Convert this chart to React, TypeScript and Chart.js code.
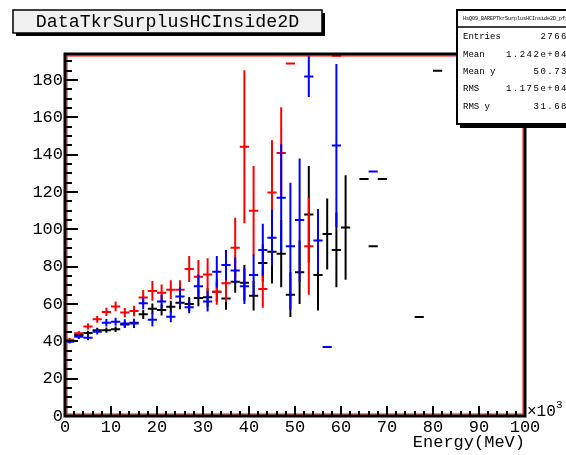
import React, { useEffect, useRef } from "react";
import { Chart, registerables } from "chart.js";

Chart.register(...registerables);

// ---- data (x in units of 10^3 MeV, bin width 2) ----
const blackX = [1, 3, 5, 7, 9, 11, 13, 15, 17, 19, 21, 23, 25, 27, 29, 31, 33, 35, 37, 39, 41, 43, 45, 47, 49, 51, 53, 55, 57, 59, 61, 65, 67, 69, 77, 81];
const blackY = [40.2, 43.4, 44.5, 46, 46, 46.5, 49, 50, 54.5, 57.5, 56.8, 58.5, 60.7, 60, 63.3, 63.6, 66.6, 63, 72, 71.4, 64.5, 82, 88, 87, 65, 77, 108, 75.5, 97.5, 89, 101, 127, 91, 127, 53, 185];
const blackErr = [1, 1.2, 1.2, 1.3, 1.4, 1.5, 1.7, 2, 2.5, 2.8, 3, 3.2, 3.5, 3.8, 4.5, 5, 5.5, 6, 6, 9.5, 8, 10, 17, 18, 12, 17, 26, 19, 19, 20, 28, 0, 0, 0, 0, 0];

const redX = [1, 3, 5, 7, 9, 11, 13, 15, 17, 19, 21, 23, 25, 27, 29, 31, 33, 35, 37, 39, 41, 43, 45, 47, 49, 53, 59];
const redY = [40.8, 44.3, 48, 51.8, 55.8, 58.7, 55.4, 56.3, 63.5, 67, 66, 67.7, 67.7, 78.8, 74.6, 75.8, 66.6, 71.1, 90.2, 144.3, 110, 68, 119.8, 141, 188.9, 91, 193];
const redErr = [1, 1.3, 1.6, 1.8, 2.2, 2.6, 2.5, 2.8, 4, 5.3, 4.5, 5, 5, 7, 9, 8.8, 7, 10, 16, 41, 24, 10, 28, 24.5, 0, 26, 0];

const blueX = [1, 3, 5, 7, 9, 11, 13, 15, 17, 19, 21, 23, 25, 27, 29, 31, 33, 35, 37, 39, 41, 43, 45, 47, 49, 51, 53, 55, 57, 59, 67];
const blueY = [39.8, 42.5, 42, 45.2, 50, 50.5, 49.6, 49.6, 60.4, 51.6, 61.4, 53.2, 64, 58.3, 69.6, 61.4, 77.3, 80.9, 78, 69.5, 75.5, 89, 95.5, 117, 91, 105, 182, 94, 37, 145, 131];
const blueErr = [1, 1.2, 1.4, 1.5, 2, 2.2, 2.3, 2.5, 3, 3.7, 3.6, 3, 5, 3.3, 6.2, 5.4, 8.5, 8, 7, 9.5, 11, 14, 15, 28.6, 34, 33, 11, 17, 0, 43.6, 0];

const binHalfWidth = 1;

const titleText = "DataTkrSurplusHCInside2D";
const xAxisTitle = "Energy(MeV)";
const statsHeader = "HsQ09_BAREPTkrSurplusHCInside2D_pfx";
const statsLabels = ["Entries", "Mean", "Mean y", "RMS", "RMS y"];
const statsValues = ["2766", "1.242e+04", "50.73", "1.175e+04", "31.68"];

const X_MIN = 0;
const X_MAX = 100;
const Y_MIN = 0;
const Y_MAX = 194;

const MONO = "'Liberation Mono', 'DejaVu Sans Mono', monospace";

const toPoints = (xs: number[], ys: number[], es: number[]) =>
  xs.map((x, i) => ({ x, y: ys[i], err: es[i] }));

const rootPlugin = {
  id: "rootStyle",
  beforeDraw(chart: any) {
    const ctx = chart.ctx;
    ctx.save();
    ctx.fillStyle = "#ffffff";
    ctx.fillRect(0, 0, chart.width, chart.height);
    ctx.restore();
  },
  afterDatasetsDraw(chart: any) {
    const { ctx, chartArea: ca } = chart;
    const xs = chart.scales.x;
    const ys = chart.scales.y;
    ctx.save();
    ctx.beginPath();
    ctx.rect(ca.left, ca.top - 2, ca.right - ca.left, ca.bottom - ca.top + 2);
    ctx.clip();
    ctx.lineWidth = 2;
    ctx.lineCap = "butt";
    chart.data.datasets.forEach((ds: any) => {
      ctx.strokeStyle = ds.borderColor;
      ds.data.forEach((p: any) => {
        const px = xs.getPixelForValue(p.x);
        const x0 = xs.getPixelForValue(p.x - binHalfWidth);
        const x1 = xs.getPixelForValue(p.x + binHalfWidth);
        const py = ys.getPixelForValue(p.y);
        ctx.beginPath();
        ctx.moveTo(x0, py);
        ctx.lineTo(x1, py);
        if (p.err > 0) {
          ctx.moveTo(px, ys.getPixelForValue(p.y + p.err));
          ctx.lineTo(px, ys.getPixelForValue(p.y - p.err));
        } else {
          ctx.moveTo(px, py - 1);
          ctx.lineTo(px, py + 1);
        }
        ctx.stroke();
      });
    });
    ctx.restore();
  },
  afterDraw(chart: any) {
    const { ctx, chartArea: ca } = chart;
    const xs = chart.scales.x;
    const ys = chart.scales.y;
    ctx.save();

    // frame
    ctx.strokeStyle = "#ff0000";
    ctx.lineWidth = 1;
    ctx.strokeRect(ca.left + 2, ca.top + 2, ca.right - ca.left - 4, ca.bottom - ca.top - 4);
    ctx.strokeStyle = "#000000";
    ctx.lineWidth = 3;
    ctx.strokeRect(ca.left, ca.top, ca.right - ca.left, ca.bottom - ca.top);

    // ticks (inside)
    ctx.lineWidth = 2;
    ctx.beginPath();
    for (let v = Y_MIN; v <= Y_MAX; v += 5) {
      const py = Math.round(ys.getPixelForValue(v)) + 0;
      const len = v % 20 === 0 ? 13 : 7;
      ctx.moveTo(ca.left, py);
      ctx.lineTo(ca.left + len, py);
    }
    for (let v = X_MIN; v <= X_MAX; v += 2) {
      const px = Math.round(xs.getPixelForValue(v));
      const len = v % 10 === 0 ? 10 : 5;
      ctx.moveTo(px, ca.bottom);
      ctx.lineTo(px, ca.bottom - len);
    }
    ctx.stroke();

    // x10^3
    ctx.fillStyle = "#000";
    ctx.textBaseline = "middle";
    ctx.textAlign = "left";
    ctx.font = `16px ${MONO}`;
    ctx.fillText("\u00d710", ca.right + 2, ca.bottom - 4);
    ctx.font = `11px ${MONO}`;
    ctx.fillText("3", ca.right + 2 + 29, ca.bottom - 11);

    // title box
    const tb = { l: 13, t: 10, r: 322, b: 33 };
    ctx.fillStyle = "#000";
    ctx.fillRect(tb.l + 3, tb.b, tb.r - tb.l, 3);
    ctx.fillRect(tb.r, tb.t + 3, 3, tb.b - tb.t);
    ctx.fillStyle = "#f0f0f0";
    ctx.fillRect(tb.l, tb.t, tb.r - tb.l, tb.b - tb.t);
    ctx.strokeStyle = "#000";
    ctx.lineWidth = 1.5;
    ctx.strokeRect(tb.l, tb.t, tb.r - tb.l, tb.b - tb.t);
    ctx.fillStyle = "#000";
    ctx.font = `18.3px ${MONO}`;
    ctx.textAlign = "center";
    ctx.textBaseline = "middle";
    ctx.fillText(titleText, (tb.l + tb.r) / 2, (tb.t + tb.b) / 2 + 1);

    // stats box
    const sb = { l: 457, t: 10, r: 575, b: 124 };
    ctx.fillStyle = "#000";
    ctx.fillRect(sb.l + 3, sb.b, sb.r - sb.l, 4);
    ctx.fillStyle = "#ffffff";
    ctx.fillRect(sb.l, sb.t, sb.r - sb.l, sb.b - sb.t);
    ctx.strokeStyle = "#000";
    ctx.lineWidth = 2;
    ctx.strokeRect(sb.l, sb.t, sb.r - sb.l, sb.b - sb.t);
    ctx.lineWidth = 1.5;
    ctx.beginPath();
    ctx.moveTo(sb.l, 27);
    ctx.lineTo(sb.r, 27);
    ctx.stroke();
    ctx.fillStyle = "#000";
    ctx.font = `5px ${MONO}`;
    ctx.textAlign = "left";
    ctx.fillText(statsHeader, sb.l + 6, 18.5);
    statsLabels.forEach((lab, i) => {
      const yy = 37 + i * 17.3;
      ctx.font = `9px ${MONO}`;
      ctx.textAlign = "left";
      (ctx as any).letterSpacing = "0px";
      ctx.fillText(lab, sb.l + 6, yy);
      ctx.textAlign = "right";
      (ctx as any).letterSpacing = "1.5px";
      ctx.fillText(statsValues[i], 568, yy);
    });
    (ctx as any).letterSpacing = "0px";
    ctx.restore();
  },
};

export default function App() {
  const canvasRef = useRef<HTMLCanvasElement | null>(null);

  useEffect(() => {
    document.body.style.margin = "0";
    document.body.style.background = "#ffffff";
    const canvas = canvasRef.current;
    if (!canvas) return;
    const chart = new Chart(canvas, {
      type: "scatter",
      data: {
        datasets: [
          { label: "black", data: toPoints(blackX, blackY, blackErr), borderColor: "#000000", backgroundColor: "#000000", pointRadius: 0, showLine: false },
          { label: "red", data: toPoints(redX, redY, redErr), borderColor: "#ff0000", backgroundColor: "#ff0000", pointRadius: 0, showLine: false },
          { label: "blue", data: toPoints(blueX, blueY, blueErr), borderColor: "#0000ff", backgroundColor: "#0000ff", pointRadius: 0, showLine: false },
        ],
      },
      options: {
        animation: false,
        responsive: false,
        maintainAspectRatio: false,
        events: [],
        layout: { padding: { top: 54, right: 41, left: 0, bottom: 0 } },
        plugins: { legend: { display: false }, tooltip: { enabled: false }, title: { display: false } },
        scales: {
          x: {
            type: "linear",
            min: X_MIN,
            max: X_MAX,
            grid: { display: false, drawTicks: false },
            border: { display: false },
            ticks: {
              stepSize: 10,
              color: "#000",
              padding: 1,
              maxRotation: 0,
              font: { family: MONO, size: 17 },
              callback: (v: any) => String(v),
            },
            title: {
              display: true,
              text: xAxisTitle,
              align: "end",
              color: "#000",
              font: { family: MONO, size: 17 },
              padding: { top: 0, bottom: 2 },
            },
            afterFit: (s: any) => { s.height = 39; },
          },
          y: {
            type: "linear",
            min: Y_MIN,
            max: Y_MAX,
            grid: { display: false, drawTicks: false },
            border: { display: false },
            ticks: {
              stepSize: 20,
              includeBounds: false,
              color: "#000",
              padding: 2,
              font: { family: MONO, size: 17 },
              callback: (v: any) => String(v),
            },
            afterFit: (s: any) => { s.width = 65; },
          },
        },
      },
      plugins: [rootPlugin],
    } as any);
    return () => chart.destroy();
  }, []);

  return (
    <div style={{ width: 566, height: 455, position: "relative" }}>
      <canvas ref={canvasRef} width={566} height={455} style={{ display: "block" }} />
    </div>
  );
}
